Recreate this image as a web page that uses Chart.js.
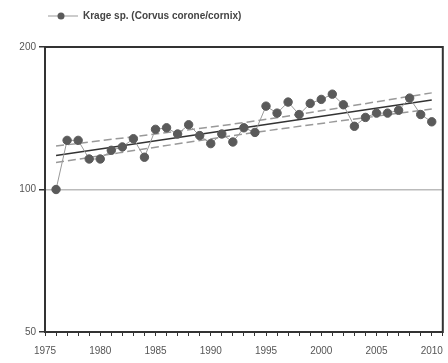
<!DOCTYPE html>
<html>
<head>
<meta charset="utf-8">
<script src="https://cdn.jsdelivr.net/npm/chart.js@4/dist/chart.umd.min.js"></script>
<style>
  html, body { margin: 0; padding: 0; background: #fff; }
  #wrap { width: 448px; height: 363px; }
</style>
</head>
<body>
<div id="wrap"><canvas id="chart" width="448" height="363"></canvas></div>
<script>
const years = [1976, 1977, 1978, 1979, 1980, 1981, 1982, 1983, 1984, 1985, 1986, 1987,
    1988, 1989, 1990, 1991, 1992, 1993, 1994, 1995, 1996, 1997, 1998, 1999, 2000,
    2001, 2002, 2003, 2004, 2005, 2006, 2007, 2008, 2009, 2010];
const index = [100, 127, 127, 116, 116, 121, 123, 128, 117, 134, 135, 131,
    137, 130, 125, 131, 126, 135, 132, 150, 145, 153, 144, 152, 155,
    159, 151, 136, 142, 145, 145, 147, 156, 144, 139];

const trendYears = [1976, 2010];
const trend = [118, 154.5];
const bandYears = [1976, 1993, 2010];
const upper = [123.5, 138.5, 160];
const lower = [114, 131, 148];

const yTicks = [50, 100, 200];
const seriesName = "Krage sp. (Corvus corone/cornix)";

function pts(xs, ys) {
    return xs.map(function (x, i) { return { x: x, y: ys[i] }; });
}

// legend symbol: thin line with a dot on it
const sym = document.createElement("canvas");
sym.width = 30; sym.height = 10;
(function () {
    const c = sym.getContext("2d");
    c.strokeStyle = "#999"; c.lineWidth = 1;
    c.beginPath(); c.moveTo(0, 5); c.lineTo(30, 5); c.stroke();
    c.fillStyle = "#5a5a5a";
    c.beginPath(); c.arc(13, 5, 3.5, 0, Math.PI * 2); c.fill();
})();

const frame = {
    id: "frame",
    afterLayout: function (chart) {
        // nudge legend so it starts over the plot area like the original
        chart.legend.left += 40;
        chart.legend.right += 40;
        chart.legend.top -= 16;
        chart.legend.bottom -= 16;
    },
    afterDatasetsDraw: function (chart) {
        const a = chart.chartArea;
        const c = chart.ctx;
        c.save();
        c.strokeStyle = "#333";
        c.lineWidth = 2;
        c.strokeRect(a.left, a.top, a.right - a.left, a.bottom - a.top);
        c.restore();
    }
};

new Chart(document.getElementById("chart"), {
    type: "line",
    data: {
        datasets: [{
            label: seriesName,
            data: pts(years, index),
            borderColor: "#999",
            borderWidth: 1,
            backgroundColor: "#5a5a5a",
            pointBackgroundColor: "#5a5a5a",
            pointBorderColor: "#5a5a5a",
            pointRadius: 4.2,
            order: 0
        }, {
            label: "trend",
            data: pts(trendYears, trend),
            borderColor: "#333",
            borderWidth: 1.5,
            pointRadius: 0,
            order: 1
        }, {
            label: "upper",
            data: pts(bandYears, upper),
            borderColor: "#999",
            borderWidth: 1.5,
            borderDash: [8, 4],
            pointRadius: 0,
            cubicInterpolationMode: "monotone",
            order: 2
        }, {
            label: "lower",
            data: pts(bandYears, lower),
            borderColor: "#999",
            borderWidth: 1.5,
            borderDash: [8, 4],
            pointRadius: 0,
            cubicInterpolationMode: "monotone",
            order: 2
        }]
    },
    options: {
        responsive: false,
        animation: false,
        layout: { padding: { left: 0, right: 4, top: 19, bottom: 0 } },
        plugins: {
            tooltip: { enabled: false },
            legend: {
                align: "start",
                labels: {
                    usePointStyle: true,
                    pointStyleWidth: 30,
                    color: "#444",
                    font: { family: "Liberation Sans, Arial, sans-serif", size: 10, weight: "bold" },
                    padding: 8,
                    generateLabels: function () {
                        return [{
                            text: seriesName,
                            pointStyle: sym,
                            datasetIndex: 0,
                            fontColor: "#444"
                        }];
                    }
                }
            }
        },
        scales: {
            x: {
                type: "linear",
                min: 1975,
                max: 2011,
                afterFit: function (scale) {
                    scale.height = 31;
                    scale.paddingRight = 0;
                },
                ticks: {
                    stepSize: 1,
                    autoSkip: false,
                    maxRotation: 0,
                    color: "#555",
                    font: { family: "Liberation Sans, Arial, sans-serif", size: 10 },
                    padding: 9,
                    callback: function (v) { return (v % 5 === 0) ? String(v) : ""; }
                },
                grid: {
                    drawOnChartArea: false,
                    tickLength: 4,
                    tickColor: "#333"
                },
                border: { color: "#333", width: 2 }
            },
            y: {
                type: "logarithmic",
                min: 50,
                max: 200,
                afterBuildTicks: function (scale) {
                    scale.ticks = yTicks.map(function (v) { return { value: v }; });
                },
                afterFit: function (scale) { scale.width = 45; },
                ticks: {
                    color: "#555",
                    font: { family: "Liberation Sans, Arial, sans-serif", size: 10 },
                    padding: 3,
                    callback: function (v) { return String(v); }
                },
                grid: {
                    color: function (ctx) {
                        return ctx.tick && ctx.tick.value === 100 ? "#bbb" : "rgba(0,0,0,0)";
                    },
                    lineWidth: 1.5,
                    tickLength: 6,
                    tickColor: "#333"
                },
                border: { color: "#333", width: 2 }
            }
        }
    },
    plugins: [frame]
});
</script>
</body>
</html>
